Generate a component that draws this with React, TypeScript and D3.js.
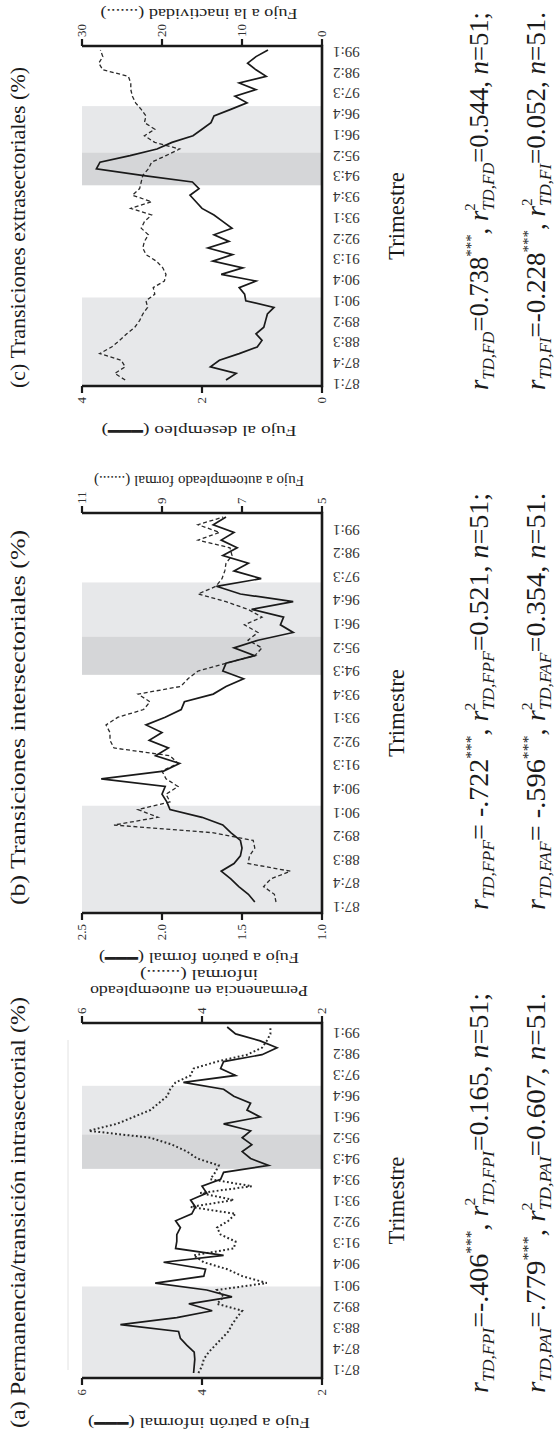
import React from "react";
import * as d3 from "d3";

const FONT = "'Liberation Serif', 'Times New Roman', serif";

// ---------- categories ----------
const quarters = [
  "87:1","87:2","87:3","87:4","88:1","88:2","88:3","88:4","89:1","89:2","89:3","89:4",
  "90:1","90:2","90:3","90:4","91:1","91:2","91:3","91:4","92:1","92:2","92:3","92:4",
  "93:1","93:2","93:3","93:4","94:1","94:2","94:3","94:4","95:1","95:2","95:3","95:4",
  "96:1","96:2","96:3","96:4","97:1","97:2","97:3","97:4","98:1","98:2","98:3","98:4",
  "99:1","99:2","99:3",
];
const tickLabels = [
  "87:1","87:4","88:3","89:2","90:1","90:4","91:3","92:2","93:1",
  "93:4","94:3","95:2","96:1","96:4","97:3","98:2","99:1",
];

// shaded periods
const shadeFrom = ["87:1", "94:3", "95:4"];
const shadeTo = ["90:1", "95:3", "97:2"];
const shadeTone = ["light", "dark", "light"];

// ---------- series ----------
// (a) Fujo a patrón informal (solid, left) / Permanencia en autoempleado informal (dotted, right)
const aSolid = [4.14,4.13,4.12,4.13,4.25,4.36,4.39,5.36,4.42,3.83,4.22,3.50,3.92,4.78,3.97,3.94,4.64,3.64,4.44,4.42,4.42,4.36,4.44,4.17,4.11,4.19,3.92,4.00,3.69,3.64,2.89,3.19,3.33,3.17,3.33,3.19,3.64,3.03,3.25,3.19,3.47,3.64,4.31,3.44,3.69,3.64,3.00,2.75,3.03,3.44,3.58];
const aDotted = [4.06,4.00,3.97,3.89,3.78,3.67,3.56,3.50,3.42,3.33,3.75,3.64,3.75,2.92,3.33,3.58,3.97,4.14,3.47,3.44,3.69,3.75,3.56,3.44,4.19,3.47,4.03,3.17,3.86,3.78,3.72,4.08,4.25,4.50,4.86,5.89,5.42,5.14,4.86,4.72,4.58,4.53,4.44,4.19,4.14,3.75,3.25,3.00,2.92,2.86,2.86];
// (b) Fujo a patrón formal (solid, left) / Fujo a autoempleado formal (dashed, right)
const bSolid = [1.42,1.46,1.52,1.57,1.63,1.55,1.51,1.50,1.51,1.57,1.62,1.75,1.95,1.97,2.00,1.98,2.38,1.99,1.89,2.04,1.96,2.08,2.00,2.10,1.98,1.88,1.86,1.68,1.60,1.49,1.62,1.60,1.42,1.55,1.40,1.18,1.26,1.24,1.44,1.18,1.51,1.66,1.38,1.55,1.46,1.62,1.53,1.63,1.55,1.68,1.60];
const bDashed = [6.15,6.19,6.46,6.28,5.79,6.85,6.81,6.68,6.72,7.74,10.2,9.1,9.6,8.8,8.9,8.6,8.9,9.0,8.6,8.8,10.2,10.3,10.3,10.4,10.1,9.46,9.3,9.6,8.53,8.35,8.1,7.4,6.68,6.5,6.85,6.6,6.94,6.5,6.85,7.4,8.1,7.65,7.5,7.43,7.4,7.25,7.3,8.1,7.56,8.1,7.47];
// (c) Fujo al desempleo (solid, left) / Fujo a la inactividad (dashed, right)
const cSolid = [1.60,1.43,1.86,1.71,1.38,1.08,1.00,1.10,0.97,0.94,0.91,0.80,1.27,1.29,1.38,1.10,1.68,1.32,1.82,1.49,1.90,1.55,1.80,1.50,1.65,1.80,2.00,2.10,2.20,2.05,2.16,3.00,3.76,3.70,3.20,2.75,2.50,2.15,2.00,1.85,1.80,1.52,1.25,1.45,1.10,1.38,0.93,1.10,1.24,1.10,0.90];
const cDashed = [24.6,25.9,24.6,25.1,27.8,26.3,25.3,24.4,23.4,22.8,22.4,21.8,22.0,20.9,21.1,19.7,19.5,19.9,20.7,22.0,22.4,22.2,21.7,22.6,22.2,21.3,23.9,21.3,23.7,22.8,22.6,22.4,21.7,21.3,19.5,17.8,20.9,22.2,20.9,22.2,22.0,22.6,23.3,23.7,23.9,23.9,24.2,27.4,27.9,27.4,27.7];

// axis ticks
const aLeftTicks = [6, 4, 2];
const aRightTicks = [6, 4, 2];
const bLeftTicks = [2.5, 2.0, 1.5, 1.0];
const bRightTicks = [11, 9, 7, 5];
const cLeftTicks = [4, 2, 0];
const cRightTicks = [30, 20, 10, 0];

// correlation texts
const aVars = ["FPI", "PAI"];
const aR = ["=-.406", "=.779"];
const aR2 = ["0.165", "0.607"];
const bVars = ["FPF", "FAF"];
const bR = ["= -.722", "= -.596"];
const bR2 = ["0.521", "0.354"];
const cVars = ["FD", "FI"];
const cR = ["=0.738", "=-0.228"];
const cR2 = ["0.544", "0.052"];
const lineEnds = [";", "."];

// ---------- layout (original landscape coords, rotated -90deg onto the page) ----------
const PAGE_H = 1439;
const Y_TOP = 82;
const Y_BOT = 322;

const panels = [
  {
    key: "a", x0: 61, x1: 416, d0: 66, d1: 412, l0: 69, l1: 406,
    title: "(a) Permanencia/transición intrasectorial (%)", titleX: 11, titleLen: 431,
    solid: aSolid, other: aDotted, dotted: true,
    leftDomain: [2, 6], rightDomain: [2, 6], leftTicks: aLeftTicks, rightTicks: aRightTicks, fmt: (d) => String(d),
    fmtR: (d) => String(d),
    leftTitle: "Fujo a patrón informal ", leftLen: 222,
    rightTitle: ["Permanencia en autoempleado", "informal (.......)"], rightLen: [218, 118],
    vars: aVars, r: aR, r2: aR2, fX: 46, fLen: 400, artifact: true,
  },
  {
    key: "b", x0: 526, x1: 926, d0: 537, d1: 922, l0: 532, l1: 909,
    title: "(b) Transiciones intersectoriales (%)", titleX: 534, titleLen: 375,
    solid: bSolid, other: bDashed, dotted: false,
    leftDomain: [1, 2.5], rightDomain: [5, 11], leftTicks: bLeftTicks, rightTicks: bRightTicks,
    fmt: (d) => d.toFixed(1), fmtR: (d) => String(d),
    leftTitle: "Fujo a patrón formal ", leftLen: 200,
    rightTitle: ["Fujo a autoempleado formal (.......)"], rightLen: [210],
    vars: bVars, r: bR, r2: bR2, fX: 529, fLen: 417, artifact: false,
  },
  {
    key: "c", x0: 1053, x1: 1393, d0: 1059, d1: 1389, l0: 1055, l1: 1387,
    title: "(c) Transiciones extrasectoriales (%)", titleX: 1051, titleLen: 321,
    solid: cSolid, other: cDashed, dotted: false,
    leftDomain: [0, 4], rightDomain: [0, 30], leftTicks: cLeftTicks, rightTicks: cRightTicks,
    fmt: (d) => String(d), fmtR: (d) => String(d),
    leftTitle: "Fujo al desempleo ", leftLen: 195,
    rightTitle: ["Fujo a la inactividad (.......)"], rightLen: [197],
    vars: cVars, r: cR, r2: cR2, fX: 1049, fLen: 378, artifact: false,
  },
];

function Formula({ x, y, len, v, r, r2, end }) {
  return (
    <text x={x} y={y} fontSize={27} fontFamily={FONT} fill="#1a1a1a"
      textLength={len} lengthAdjust="spacingAndGlyphs">
      <tspan fontStyle="italic">r</tspan>
      <tspan fontStyle="italic" fontSize={17} dy={6}>{"TD," + v}</tspan>
      <tspan dy={-6}>{r}</tspan>
      <tspan fontSize={15} dy={-12}>***</tspan>
      <tspan dy={12}>{", "}</tspan>
      <tspan fontStyle="italic">r</tspan>
      <tspan fontSize={15} dy={-13}>2</tspan>
      <tspan fontStyle="italic" fontSize={17} dx={-7.5} dy={19}>{"TD," + v}</tspan>
      <tspan dy={-6}>{"=" + r2 + ", "}</tspan>
      <tspan fontStyle="italic">n</tspan>
      <tspan>{"=51" + end}</tspan>
    </text>
  );
}

function Panel({ p }) {
  const x = d3.scaleLinear().domain([0, quarters.length - 1]).range([p.d0, p.d1]);
  const xl = d3.scalePoint().domain(tickLabels).range([p.l0, p.l1]);
  const yL = d3.scaleLinear().domain(p.leftDomain).range([Y_BOT, Y_TOP]);
  const yR = d3.scaleLinear().domain(p.rightDomain).range([Y_BOT, Y_TOP]);
  const lineL = d3.line().x((d, i) => x(i)).y((d) => yL(d));
  const lineR = d3.line().x((d, i) => x(i)).y((d) => yR(d));
  const cx = (p.x0 + p.x1) / 2;
  const cy = (Y_TOP + Y_BOT) / 2 - 3;

  const bands = shadeFrom.map((f, k) => {
    const a = quarters.indexOf(f);
    const b = quarters.indexOf(shadeTo[k]);
    const xa = a === 0 ? p.x0 : Math.max(p.x0, x(a - 0.5));
    const xb = Math.min(p.x1, x(b + 0.5));
    return { xa, xb, tone: shadeTone[k] };
  });

  return (
    <g>
      {p.artifact && (
        <line x1={PAGE_H - 1370} x2={PAGE_H - 1040} y1={68} y2={68} stroke="#e2e2e2" strokeWidth={1} />
      )}
      {bands.map((b, k) => (
        <rect key={k} x={b.xa} y={Y_TOP} width={b.xb - b.xa} height={Y_BOT - Y_TOP}
          fill={b.tone === "dark" ? "#d5d6d8" : "#e7e8ea"} />
      ))}
      <path d={lineR(p.other)} fill="none" stroke="#2a2a2a"
        strokeWidth={p.dotted ? 2 : 1.3}
        strokeDasharray={p.dotted ? "1.8 2.4" : "4 2.6"} />
      <path d={lineL(p.solid)} fill="none" stroke="#1a1a1a" strokeWidth={1.7} strokeLinejoin="miter" />

      {/* axes */}
      <line x1={p.x0} x2={p.x0} y1={Y_TOP} y2={Y_BOT} stroke="#1a1a1a" strokeWidth={2.6} />
      <line x1={p.x1} x2={p.x1} y1={Y_TOP} y2={Y_BOT} stroke="#1a1a1a" strokeWidth={2.6} />
      <line x1={p.x0 - 1.3} x2={p.x1 + 1.3} y1={Y_BOT} y2={Y_BOT} stroke="#1a1a1a" strokeWidth={2.6} />
      {p.leftTicks.map((t) => (
        <g key={"l" + t}>
          <line x1={p.x0} x2={p.x0 - 7} y1={yL(t)} y2={yL(t)} stroke="#1a1a1a" strokeWidth={2.2} />
          <text x={p.x0 - 11} y={yL(t)} dy="0.33em" textAnchor="end" fontSize={13} fontFamily={FONT} fill="#333">
            {p.fmt(t)}
          </text>
        </g>
      ))}
      {p.rightTicks.map((t) => (
        <g key={"r" + t}>
          <line x1={p.x1} x2={p.x1 + 7} y1={yR(t)} y2={yR(t)} stroke="#1a1a1a" strokeWidth={2.2} />
          <text x={p.x1 + 9} y={yR(t)} dy="0.33em" textAnchor="start" fontSize={13} fontFamily={FONT} fill="#333">
            {p.fmtR(t)}
          </text>
        </g>
      ))}
      {tickLabels.map((l) => (
        <text key={l} transform={`translate(${xl(l)},${Y_BOT + 11}) rotate(-90)`} dy="0.35em"
          textAnchor="end" fontSize={15} fontFamily={FONT} fill="#333">{l}</text>
      ))}

      {/* axis titles */}
      <text transform={`translate(${p.x0 - 40},${cy}) rotate(-90)`} textAnchor="middle"
        fontSize={15.5} fontFamily={FONT} fill="#222" textLength={p.leftLen} lengthAdjust="spacingAndGlyphs">
        {p.leftTitle}(<tspan fontFamily="'DejaVu Sans'" fontWeight="bold">━━━</tspan>)
      </text>
      {p.rightTitle.map((t, k) => (
        <text key={k} transform={`translate(${p.x1 + 37 + k * 16},${cy}) rotate(-90)`} textAnchor="middle"
          fontSize={15.5} fontFamily={FONT} fill="#222" textLength={p.rightLen[k]} lengthAdjust="spacingAndGlyphs">{t}</text>
      ))}

      {/* titles */}
      <text x={p.titleX} y={25} fontSize={21} fontFamily={FONT} fill="#1a1a1a"
        textLength={p.titleLen} lengthAdjust="spacingAndGlyphs">{p.title}</text>
      <text x={cx} y={404} textAnchor="middle" fontSize={23} fontFamily={FONT} fill="#1a1a1a"
        textLength={88} lengthAdjust="spacingAndGlyphs">Trimestre</text>

      {p.vars.map((v, k) => (
        <Formula key={v} x={p.fX} y={488 + k * 57} len={p.fLen} v={v} r={p.r[k]} r2={p.r2[k]} end={lineEnds[k]} />
      ))}
    </g>
  );
}

export default function App() {
  return (
    <svg width={554} height={1439} viewBox="0 0 554 1439"
      style={{ position: "absolute", left: 0, top: 0, background: "#fff", display: "block" }}>
      <rect x={0} y={0} width={554} height={1439} fill="#fff" />
      <g transform={`translate(0,${PAGE_H}) rotate(-90)`}>
        {panels.map((p) => <Panel key={p.key} p={p} />)}
      </g>
    </svg>
  );
}
